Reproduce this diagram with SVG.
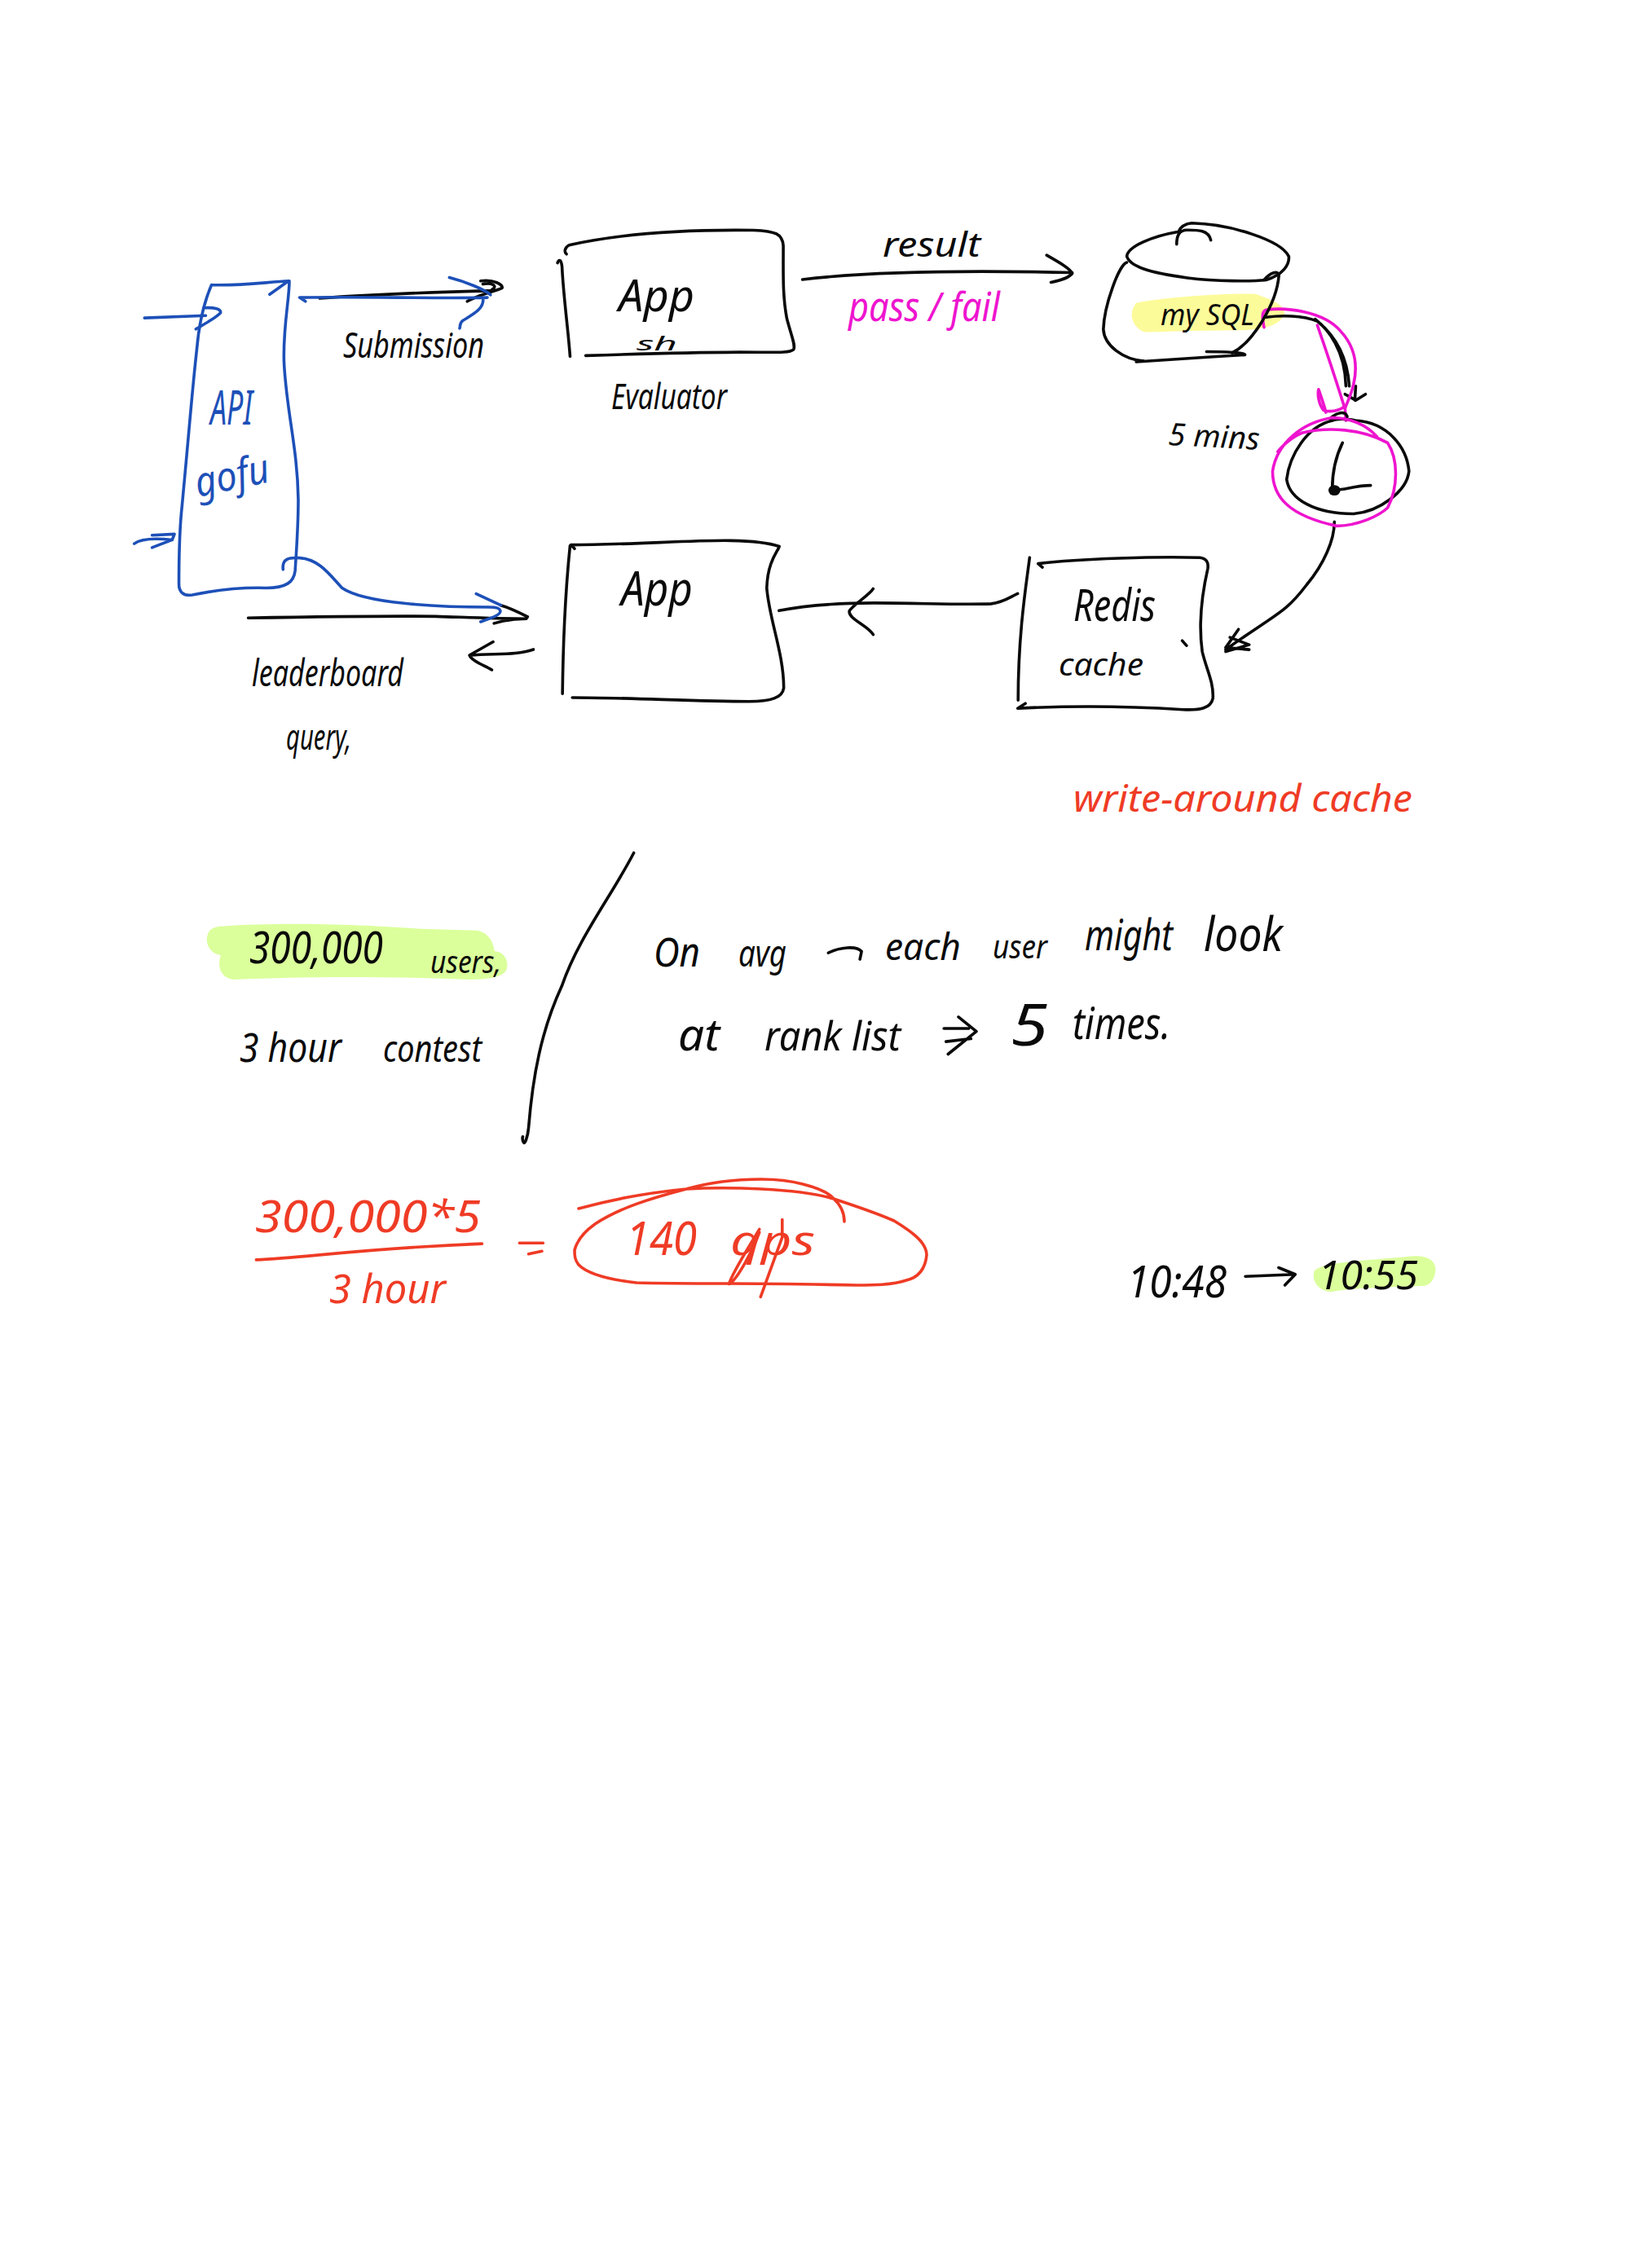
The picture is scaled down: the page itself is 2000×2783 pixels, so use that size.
<svg xmlns="http://www.w3.org/2000/svg" width="2000" height="2783" viewBox="0 0 2000 2783">
<style>
text{font-family:"Noto Sans","Liberation Sans",sans-serif;font-style:italic;fill:#0a0a0a}
.p{fill:none;stroke:#0a0a0a;stroke-width:3.6;stroke-linecap:round;stroke-linejoin:round;vector-effect:non-scaling-stroke}
.bl{stroke:#1d50b8}.mg{stroke:#ee14cf}.rd{stroke:#ef3b25}
text.tb{fill:#1d50b8}text.tm{fill:#ee14cf}text.tr{fill:#ef3b25}
.ye{fill:#fcfb9a}.li{fill:#dbff9b}
</style>
<rect width="2000" height="2783" fill="#fff"/>
<g id="highlights">
<path class="ye" transform="matrix(.523 0 0 .4974 960 240)" d="M830 265C900 250 1050 240 1110 243C1140 255 1175 265 1178 290C1170 320 1130 330 1080 332C1000 332 900 335 850 337C820 325 810 290 830 265Z"/>
<path class="li" transform="matrix(.5102 0 0 .3954 220 1020)" d="M100 295C250 280 450 290 580 303L715 308C745 315 755 345 758 372C785 375 795 410 785 435C770 455 740 460 700 460C500 450 300 450 130 460C100 455 90 420 100 385C70 380 60 340 70 315C75 300 90 295 100 295Z"/>
<path class="li" transform="matrix(.5102 0 0 .357 1000 1080)" d="M1200 1345C1215 1315 1300 1310 1440 1292C1480 1290 1495 1315 1492 1345C1490 1370 1480 1395 1460 1395C1380 1400 1300 1400 1240 1415C1210 1410 1195 1380 1200 1345Z"/>
</g>
<g id="connectors">
<g transform="matrix(.5485 0 0 .472 140 240)">
<path class="p bl" d="M68 318L205 312M200 292C225 290 240 295 238 305C225 320 200 335 183 347"/>
<path class="p bl" d="M45 905C60 892 90 890 130 895M85 883L135 880L130 895L85 915"/>
<path class="p" d="M460 267C600 255 750 250 845 247M820 222C850 217 870 232 868 240C850 250 820 255 790 275M825 230C845 225 860 235 845 245"/>
<path class="p bl" d="M428 275L415 265C550 262 720 268 835 265M750 213C790 225 830 245 842 258M825 265C830 295 800 310 780 325C772 332 775 340 773 345"/>
<path class="p" d="M300 1098C450 1095 600 1092 720 1094C780 1096 850 1100 922 1100L925 1095C900 1080 880 1070 865 1065M850 1112C870 1105 900 1100 922 1100"/>
<path class="p bl" d="M378 972C375 945 390 940 415 942C460 945 485 990 510 1020C560 1060 720 1070 840 1070C870 1070 870 1085 850 1095L820 1108M810 1035L865 1065"/>
<path class="p" d="M938 1180C900 1195 860 1190 795 1195L848 1160M795 1195C800 1210 830 1222 845 1233"/>
</g>
<g transform="matrix(.523 0 0 .4974 960 240)">
<path class="p" d="M47 207C200 188 400 183 680 190M620 147C650 165 675 180 680 192C670 205 650 210 630 214"/>
<path class="p" d="M-8 1024C60 1010 130 1005 215 1005C320 1005 420 1010 490 1007C520 1003 535 990 552 982M213 970C205 985 165 1010 157 1025C155 1045 200 1060 213 1083"/>
<path class="p" d="M1135 300C1170 295 1220 295 1255 310C1290 340 1325 390 1330 470M1250 305C1280 330 1320 380 1322 470M1320 490L1345 505L1368 490M1345 470L1343 505"/>
<path class="p mg" d="M1130 325C1125 300 1125 285 1135 282C1180 275 1270 285 1310 335C1345 375 1350 420 1340 465C1335 490 1325 510 1320 525L1322 555M1255 320C1275 380 1300 460 1318 520C1310 530 1285 535 1270 530C1258 515 1255 490 1258 478C1265 500 1272 520 1275 535"/>
<path class="p" d="M1295 805C1295 850 1270 910 1230 960C1180 1030 1160 1030 1040 1120M1070 1070L1040 1115L1095 1120M1050 1090L1095 1108L1040 1125"/>
</g>
<g transform="matrix(.5102 0 0 .357 1000 1080)">
<path class="p" d="M1035 1362L1155 1355M1115 1332L1155 1355L1130 1392"/>
<path class="p" d="M310 510L370 510M315 555L375 545M345 470L388 520L320 598"/>
<path class="p" d="M32 250C60 230 100 225 112 245L108 272"/>
</g>
</g>
<g id="api-gateway">
<path class="p bl" transform="matrix(.5485 0 0 .472 140 240)" d="M218 232C280 235 340 225 392 222C392 270 378 340 380 430C385 560 410 650 412 790C412 860 408 920 405 975C402 1005 385 1020 340 1020C280 1018 230 1025 175 1038C155 1042 145 1030 145 1010C145 950 145 900 150 830C165 650 175 500 185 400C190 330 200 280 218 232M348 257L390 222"/>
<text class="tb" x="258" y="521" font-size="58" textLength="52" lengthAdjust="spacingAndGlyphs">API</text>
<text class="tb" x="243" y="610" font-size="50" textLength="92" lengthAdjust="spacingAndGlyphs" transform="rotate(-12 243 610)">gofu</text>
</g>
<g id="app-evaluator">
<path class="p" transform="matrix(.5485 0 0 .472 140 240)" d="M1012 152C1005 145 1010 132 1020 128C1150 95 1300 88 1430 90C1480 92 1495 100 1497 130C1497 200 1495 260 1505 320C1515 365 1525 390 1520 400C1510 410 1480 407 1400 407C1280 408 1160 412 1055 416M992 175C995 165 1000 165 1002 185C1005 260 1015 340 1020 418"/>
<text x="759" y="382" font-size="54" textLength="93" lengthAdjust="spacingAndGlyphs">App</text>
<text x="781" y="430" font-size="24" textLength="50" lengthAdjust="spacingAndGlyphs">sh</text>
<text x="750" y="502" font-size="44" textLength="142" lengthAdjust="spacingAndGlyphs">Evaluator</text>
</g>
<g id="app-leaderboard">
<path class="p" transform="matrix(.5485 0 0 .472 140 240)" d="M1030 918L1022 908C1150 908 1300 895 1380 897C1430 898 1470 905 1488 912C1485 925 1462 950 1460 1020C1465 1100 1498 1190 1498 1280C1495 1305 1470 1315 1420 1315C1300 1315 1150 1305 1025 1305M1020 910C1012 1000 1005 1100 1003 1295"/>
<text x="762" y="743" font-size="58" textLength="88" lengthAdjust="spacingAndGlyphs">App</text>
</g>
<g id="mysql">
<g transform="matrix(.523 0 0 .4974 960 240)">
<path class="p" d="M925 120C925 100 930 85 950 85C975 85 1000 85 1005 110M925 90C870 100 810 125 808 150C815 175 860 190 950 203C1020 212 1100 212 1135 208C1175 195 1190 170 1188 150C1170 110 1050 70 960 68C945 70 935 75 930 88"/>
<path class="p" d="M808 165C790 170 755 270 753 330C755 370 800 405 848 408M830 410C900 405 1000 398 1085 393C1088 388 1040 385 995 385M1055 388C1100 365 1160 270 1165 195C1160 185 1145 190 1130 208"/>
</g>
<text x="1424" y="399" font-size="36" textLength="115" lengthAdjust="spacingAndGlyphs">my SQL</text>
</g>
<g id="clock">
<g transform="matrix(.523 0 0 .4974 960 240)">
<path class="p" d="M1290 555C1230 570 1190 640 1183 700C1190 750 1250 785 1340 785C1400 780 1465 730 1470 680C1465 620 1420 560 1345 555C1320 550 1300 550 1290 555M1285 550C1300 535 1320 530 1325 545M1314 610C1300 640 1290 680 1290 725C1310 730 1340 715 1380 715"/>
<ellipse cx="1295" cy="727" rx="14" ry="13" fill="#0a0a0a"/>
<path class="p mg" d="M1395 595C1370 565 1330 548 1290 548C1220 560 1160 610 1150 680C1150 745 1190 790 1300 815C1350 815 1400 790 1420 770C1445 720 1445 650 1420 610C1360 575 1280 570 1220 585C1195 595 1170 620 1162 632"/>
</g>
</g>
<g id="redis-cache">
<path class="p" transform="matrix(.523 0 0 .4974 960 240)" d="M580 893C572 960 553 1080 553 1245M610 917L600 908C700 895 880 890 980 893C995 895 1000 905 998 920C985 980 975 1050 985 1125C995 1170 1012 1200 1010 1240C1005 1265 980 1270 940 1268C820 1260 680 1258 552 1265L570 1253M938 1098L948 1110"/>
<text x="1317" y="762" font-size="54" textLength="101" lengthAdjust="spacingAndGlyphs">Redis</text>
<text x="1299" y="829" font-size="38" textLength="104" lengthAdjust="spacingAndGlyphs">cache</text>
</g>
<g id="labels">
<text x="421" y="439" font-size="44" textLength="173" lengthAdjust="spacingAndGlyphs">Submission</text>
<text x="309" y="842" font-size="46" textLength="186" lengthAdjust="spacingAndGlyphs">leaderboard</text>
<text x="351" y="920" font-size="44" textLength="80" lengthAdjust="spacingAndGlyphs">query,</text>
<text x="1083" y="315" font-size="42" textLength="120" lengthAdjust="spacingAndGlyphs">result</text>
<text class="tm" x="1041" y="394" font-size="50" textLength="186" lengthAdjust="spacingAndGlyphs">pass / fail</text>
<text x="1433" y="546" font-size="38" textLength="112" lengthAdjust="spacingAndGlyphs" transform="rotate(3 1433 546)">5 mins</text>
<text class="tr" x="1317" y="996" font-size="46" textLength="416" lengthAdjust="spacingAndGlyphs">write-around cache</text>
</g>
<g id="notes">
<text x="306" y="1182" font-size="54" textLength="164" lengthAdjust="spacingAndGlyphs">300,000</text>
<text x="528" y="1194" font-size="38" textLength="87" lengthAdjust="spacingAndGlyphs">users,</text>
<text x="294" y="1303" font-size="50" textLength="125" lengthAdjust="spacingAndGlyphs">3 hour</text>
<text x="470" y="1303" font-size="46" textLength="121" lengthAdjust="spacingAndGlyphs">contest</text>
<text x="802" y="1186" font-size="50" textLength="57" lengthAdjust="spacingAndGlyphs">On</text>
<text x="906" y="1186" font-size="46" textLength="59" lengthAdjust="spacingAndGlyphs">avg</text>
<text x="1086" y="1178" font-size="46" textLength="93" lengthAdjust="spacingAndGlyphs">each</text>
<text x="1218" y="1176" font-size="40" textLength="67" lengthAdjust="spacingAndGlyphs">user</text>
<text x="1331" y="1166" font-size="52" textLength="108" lengthAdjust="spacingAndGlyphs">might</text>
<text x="1477" y="1167" font-size="58" textLength="97" lengthAdjust="spacingAndGlyphs">look</text>
<text x="832" y="1289" font-size="54" textLength="51" lengthAdjust="spacingAndGlyphs">at</text>
<text x="938" y="1289" font-size="50" textLength="167" lengthAdjust="spacingAndGlyphs">rank list</text>
<text x="1240" y="1283" font-size="72" textLength="46" lengthAdjust="spacingAndGlyphs">5</text>
<text x="1316" y="1275" font-size="54" textLength="120" lengthAdjust="spacingAndGlyphs">times.</text>
<text x="1383" y="1592" font-size="54" textLength="122" lengthAdjust="spacingAndGlyphs">10:48</text>
<text x="1617" y="1582" font-size="50" textLength="123" lengthAdjust="spacingAndGlyphs">10:55</text>
<path class="p" transform="matrix(.5102 0 0 .3954 220 1020)" d="M1093 67C1040 200 960 330 920 480C870 620 850 760 840 920C838 950 830 975 828 965C825 960 825 950 826 948"/>
</g>
<g id="calculation">
<text class="tr" x="313" y="1512" font-size="54" textLength="277" lengthAdjust="spacingAndGlyphs">300,000*5</text>
<text class="tr" x="404" y="1599" font-size="50" textLength="143" lengthAdjust="spacingAndGlyphs">3 hour</text>
<text class="tr" x="768" y="1540" font-size="56" textLength="87" lengthAdjust="spacingAndGlyphs">140</text>
<text class="tr" x="896" y="1540" font-size="50" textLength="104" lengthAdjust="spacingAndGlyphs">qps</text>
<g transform="matrix(.5102 0 0 .3954 220 1020)">
<path class="p rd" d="M185 1330C300 1325 430 1295 728 1280M818 1278L875 1278M840 1312L872 1303"/>
<path class="p rd" d="M1395 1235C1370 1290 1330 1370 1322 1405C1340 1395 1380 1300 1395 1245M1450 1205L1450 1260L1398 1445"/>
</g>
<path class="p rd" d="M710 1483C750 1472 790 1464 842 1459C890 1456 980 1458 1023 1471C1050 1480 1075 1488 1097 1498C1120 1512 1137 1525 1137 1540C1135 1560 1125 1568 1112 1571C1095 1577 1070 1577 1051 1577C1000 1576 940 1575 893 1575C850 1575 815 1575 781 1574C745 1570 720 1562 710 1552C705 1546 705 1540 705 1534C708 1522 716 1512 730 1502C760 1482 800 1470 842 1459C870 1451 900 1447 934 1447C955 1447 970 1449 985 1453C1005 1458 1018 1465 1023 1471C1033 1480 1036 1490 1036 1499"/>
</g>
</svg>
